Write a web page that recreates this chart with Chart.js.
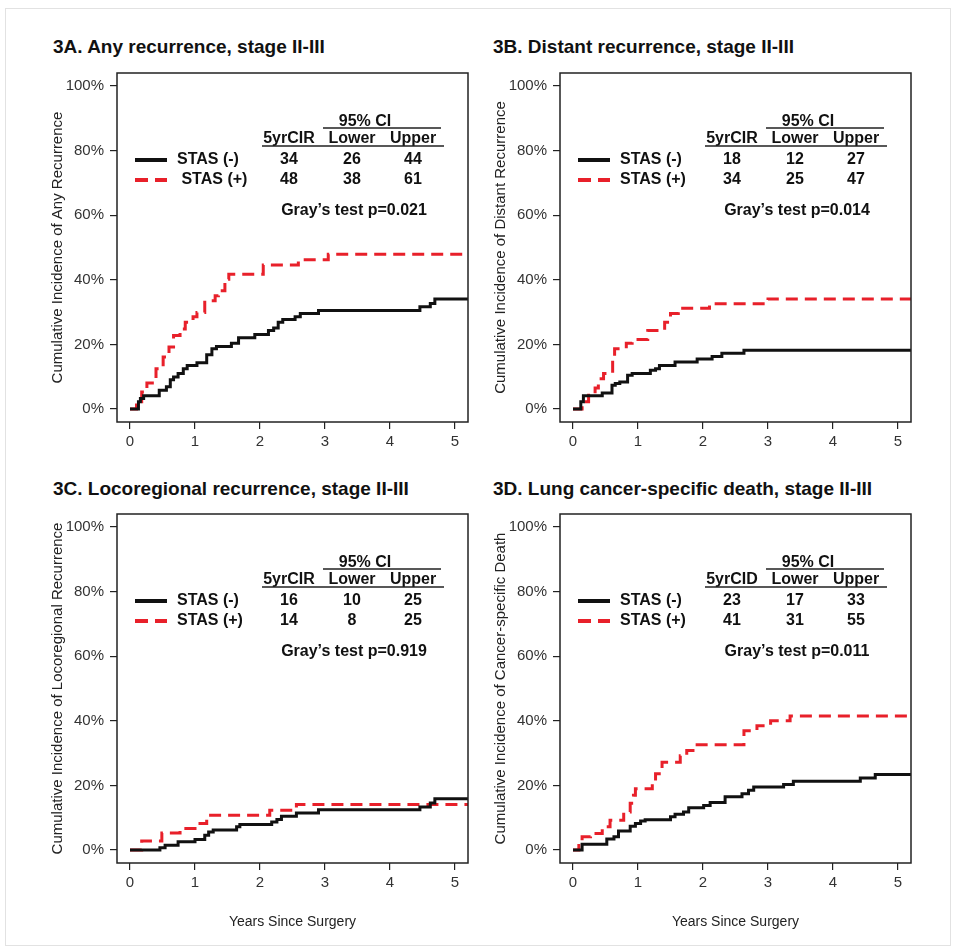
<!DOCTYPE html>
<html>
<head>
<meta charset="utf-8">
<script src="https://cdn.jsdelivr.net/npm/chart.js"></script>
<style>
  body { margin: 0; background: #fff; font-family: "Liberation Sans", Arial, sans-serif; }
  #frame { position: absolute; left: 5px; top: 8px; width: 944px; height: 936px; border: 1px solid #e2e2e2; }
  .title { position: absolute; font-weight: bold; font-size: 19px; color: #111; white-space: nowrap; }
  canvas { position: absolute; }
</style>
</head>
<body>
<div id="frame"></div>
<div class="title" style="left:53px; top:36px;">3A. Any recurrence, stage II-III</div>
<div class="title" style="left:493px; top:36px;">3B. Distant recurrence, stage II-III</div>
<div class="title" style="left:53px; top:478px;">3C. Locoregional recurrence, stage II-III</div>
<div class="title" style="left:493px; top:478px;">3D. Lung cancer-specific death, stage II-III</div>
<canvas id="chartA" width="470" height="430" style="left:7px; top:58px;"></canvas>
<canvas id="chartB" width="470" height="430" style="left:450px; top:58px;"></canvas>
<canvas id="chartC" width="470" height="430" style="left:7px; top:499px;"></canvas>
<canvas id="chartD" width="470" height="430" style="left:450px; top:499px;"></canvas>
<script>
// axis ticks
const xTicks = [0, 1, 2, 3, 4, 5];
const yTicks = [0, 20, 40, 60, 80, 100];

// 3A any recurrence (years, cumulative %)
const anyNegX = [0, 0.13, 0.16, 0.21, 0.45, 0.56, 0.62, 0.67, 0.74, 0.82, 0.88, 1.03, 1.18, 1.26, 1.33, 1.56, 1.67, 1.92, 2.13, 2.21, 2.28, 2.35, 2.54, 2.62, 2.90, 4.46, 4.62, 4.69, 5.2];
const anyNegY = [0, 2.3, 3.3, 4.1, 5.8, 6.9, 9.1, 9.9, 11.0, 12.5, 13.5, 14.3, 16.8, 18.7, 19.4, 20.4, 22.1, 23.1, 24.3, 25.1, 26.9, 27.7, 28.6, 29.6, 30.5, 31.7, 32.7, 34.1, 34.1];
const anyPosX = [0, 0.10, 0.18, 0.26, 0.40, 0.51, 0.60, 0.67, 0.77, 0.85, 0.97, 1.03, 1.15, 1.31, 1.36, 1.46, 1.52, 2.05, 2.59, 3.05, 5.2];
const anyPosY = [0, 2.3, 5.3, 8.1, 12.5, 16.1, 19.2, 22.8, 24.8, 26.9, 28.6, 29.9, 33.5, 35.1, 36.6, 40.2, 41.7, 44.6, 46.2, 47.9, 47.9];

// 3B distant recurrence
const distNegX = [0, 0.12, 0.16, 0.45, 0.60, 0.65, 0.72, 0.84, 0.91, 1.19, 1.27, 1.33, 1.57, 1.91, 2.14, 2.29, 2.63, 5.2];
const distNegY = [0, 2.3, 4.1, 5.0, 7.4, 7.9, 8.4, 10.5, 11.0, 12.0, 12.5, 13.5, 14.6, 15.5, 16.3, 17.3, 18.2, 18.2];
const distPosX = [0, 0.14, 0.24, 0.34, 0.39, 0.47, 0.61, 0.64, 0.82, 0.91, 1.15, 1.41, 1.50, 1.62, 2.10, 3.00, 5.2];
const distPosY = [0, 2.3, 4.3, 6.5, 9.4, 11.0, 15.5, 18.7, 20.4, 21.5, 24.3, 26.9, 29.6, 31.2, 32.6, 34.1, 34.1];

// 3C locoregional recurrence
const locoNegX = [0, 0.46, 0.54, 0.74, 1.00, 1.15, 1.21, 1.28, 1.64, 1.69, 2.18, 2.26, 2.33, 2.56, 2.90, 4.46, 4.62, 4.69, 5.2];
const locoNegY = [0, 0.7, 1.5, 2.6, 3.3, 4.6, 5.6, 6.2, 7.2, 7.9, 8.7, 9.5, 10.5, 11.5, 12.5, 13.3, 14.6, 15.9, 15.9];
const locoPosX = [0, 0.18, 0.49, 0.77, 1.00, 1.18, 2.15, 2.56, 5.2];
const locoPosY = [0, 2.8, 5.3, 6.7, 8.2, 10.8, 12.3, 14.1, 14.1];

// 3D lung cancer-specific death
const lcsdNegX = [0, 0.14, 0.52, 0.63, 0.70, 0.88, 0.96, 1.04, 1.11, 1.50, 1.57, 1.70, 1.78, 2.01, 2.11, 2.34, 2.60, 2.70, 2.78, 3.24, 3.39, 4.42, 4.65, 5.2];
const lcsdNegY = [0, 1.8, 3.4, 4.1, 5.9, 7.4, 8.2, 9.0, 9.4, 10.3, 11.1, 11.8, 13.1, 13.8, 14.7, 16.5, 17.4, 18.5, 19.5, 20.3, 21.3, 22.3, 23.4, 23.4];
const lcsdPosX = [0, 0.09, 0.14, 0.27, 0.45, 0.57, 0.78, 0.88, 0.93, 0.96, 1.22, 1.27, 1.37, 1.65, 1.75, 1.91, 2.63, 2.83, 3.04, 3.34, 5.2];
const lcsdPosY = [0, 2.0, 4.1, 5.1, 7.2, 9.2, 11.8, 14.5, 17.0, 19.0, 21.0, 23.6, 27.2, 29.2, 30.8, 32.6, 36.9, 38.5, 40.0, 41.5, 41.5];

// table text
const yTitles = [
    'Cumulative Incidence of Any Recurrence',
    'Cumulative Incidence of Distant Recurrence',
    'Cumulative Incidence of Locoregional Recurrence',
    'Cumulative Incidence of Cancer-specific Death'
];
const estHeaders = ['5yrCIR', '5yrCIR', '5yrCIR', '5yrCID'];
const negLabels = ['STAS (-)', 'STAS (-)', 'STAS (-)', 'STAS (-)'];
const posLabels = [' STAS (+)', 'STAS (+)', 'STAS (+)', 'STAS (+)'];
const negValues = [[34, 26, 44], [18, 12, 27], [16, 10, 25], [23, 17, 33]];
const posValues = [[48, 38, 61], [34, 25, 47], [14, 8, 25], [41, 31, 55]];
const pValues = ['0.021', '0.014', '0.919', '0.011'];

const blackColor = '#111111';
const redColor = '#e8202a';
const redDash = [12, 7];

function toPoints(xs, ys) {
    return xs.map((x, i) => ({ x: x, y: ys[i] }));
}

// box, y title, legend table and x title
const panelDecor = {
    id: 'panelDecor',
    afterDraw(chart, args, opts) {
        const ctx = chart.ctx;
        const a = chart.chartArea;
        const i = opts.index;
        ctx.save();
        ctx.strokeStyle = '#222';
        ctx.lineWidth = 1.5;
        ctx.strokeRect(a.left, a.top, a.right - a.left, a.bottom - a.top);

        // y axis title
        ctx.save();
        ctx.translate(51, (a.top + a.bottom) / 2);
        ctx.rotate(-Math.PI / 2);
        ctx.font = '15px "Liberation Sans", Arial, sans-serif';
        ctx.fillStyle = '#222';
        ctx.textAlign = 'center';
        ctx.textBaseline = 'middle';
        ctx.fillText(yTitles[i], 0, 0);
        ctx.restore();

        if (opts.xTitle) {
            ctx.font = '14px "Liberation Sans", Arial, sans-serif';
            ctx.fillStyle = '#222';
            ctx.textAlign = 'center';
            ctx.textBaseline = 'middle';
            ctx.fillText(opts.xTitle, (a.left + a.right) / 2, a.top + 408);
        }

        // table
        const x0 = a.left, y0 = a.top;
        ctx.font = 'bold 16px "Liberation Sans", Arial, sans-serif';
        ctx.fillStyle = '#111';
        ctx.textBaseline = 'middle';
        ctx.textAlign = 'center';
        ctx.fillText('95% CI', x0 + 248, y0 + 49);
        const cols = [172, 235, 296];
        ctx.fillText(estHeaders[i], x0 + cols[0], y0 + 66);
        ctx.fillText('Lower', x0 + cols[1], y0 + 66);
        ctx.fillText('Upper', x0 + cols[2], y0 + 66);
        negValues[i].forEach((v, k) => ctx.fillText(String(v), x0 + cols[k], y0 + 87));
        posValues[i].forEach((v, k) => ctx.fillText(String(v), x0 + cols[k], y0 + 107));
        ctx.fillText('Gray\u2019s test p=' + pValues[i], x0 + 237, y0 + 138);
        ctx.textAlign = 'left';
        ctx.fillText(negLabels[i], x0 + 60, y0 + 87);
        ctx.fillText(posLabels[i], x0 + 60, y0 + 107);

        ctx.strokeStyle = '#222';
        ctx.lineWidth = 1.5;
        ctx.beginPath();
        ctx.moveTo(x0 + 206, y0 + 55); ctx.lineTo(x0 + 324, y0 + 55);
        ctx.moveTo(x0 + 145, y0 + 73); ctx.lineTo(x0 + 327, y0 + 73);
        ctx.stroke();

        // legend keys
        ctx.lineWidth = 4;
        ctx.strokeStyle = blackColor;
        ctx.beginPath();
        ctx.moveTo(x0 + 18, y0 + 87); ctx.lineTo(x0 + 50, y0 + 87);
        ctx.stroke();
        ctx.strokeStyle = redColor;
        ctx.setLineDash([13, 7]);
        ctx.beginPath();
        ctx.moveTo(x0 + 18, y0 + 107); ctx.lineTo(x0 + 50, y0 + 107);
        ctx.stroke();
        ctx.restore();
    }
};

const tickFont = { family: '"Liberation Sans", Arial, sans-serif', size: 15 };

function makePanel(canvasId, index, negX, negY, posX, posY, xTitle) {
    new Chart(document.getElementById(canvasId), {
        type: 'line',
        data: {
            datasets: [{
                label: 'STAS (-)',
                data: toPoints(negX, negY),
                borderColor: blackColor,
                borderWidth: 3,
                stepped: 'before',
                pointRadius: 0
            }, {
                label: 'STAS (+)',
                data: toPoints(posX, posY),
                borderColor: redColor,
                borderWidth: 3,
                borderDash: redDash,
                stepped: 'before',
                pointRadius: 0
            }]
        },
        options: {
            responsive: false,
            animation: false,
            layout: { padding: { top: 6, right: 9, left: 0, bottom: 0 } },
            scales: {
                x: {
                    type: 'linear',
                    min: -0.2,
                    max: 5.2,
                    afterBuildTicks: s => { s.ticks = xTicks.map(v => ({ value: v })); },
                    afterFit: s => { s.height = 66; },
                    ticks: { font: tickFont, color: '#333', padding: 4, maxRotation: 0, autoSkip: false },
                    grid: { drawOnChartArea: false, drawTicks: true, tickLength: 7, color: '#222', lineWidth: 1.2 },
                    border: { display: false }
                },
                y: {
                    min: -4,
                    max: 104,
                    afterBuildTicks: s => { s.ticks = yTicks.map(v => ({ value: v })); },
                    afterFit: s => { s.width = 110; },
                    ticks: { font: tickFont, color: '#333', padding: 6, autoSkip: false, callback: v => v + '%' },
                    grid: { drawOnChartArea: false, drawTicks: true, tickLength: 7, color: '#222', lineWidth: 1.2 },
                    border: { display: false }
                }
            },
            plugins: {
                legend: { display: false },
                tooltip: { enabled: false },
                panelDecor: { index: index, xTitle: xTitle }
            }
        },
        plugins: [panelDecor]
    });
}

makePanel('chartA', 0, anyNegX, anyNegY, anyPosX, anyPosY, null);
makePanel('chartB', 1, distNegX, distNegY, distPosX, distPosY, null);
makePanel('chartC', 2, locoNegX, locoNegY, locoPosX, locoPosY, 'Years Since Surgery');
makePanel('chartD', 3, lcsdNegX, lcsdNegY, lcsdPosX, lcsdPosY, 'Years Since Surgery');
</script>
</body>
</html>
